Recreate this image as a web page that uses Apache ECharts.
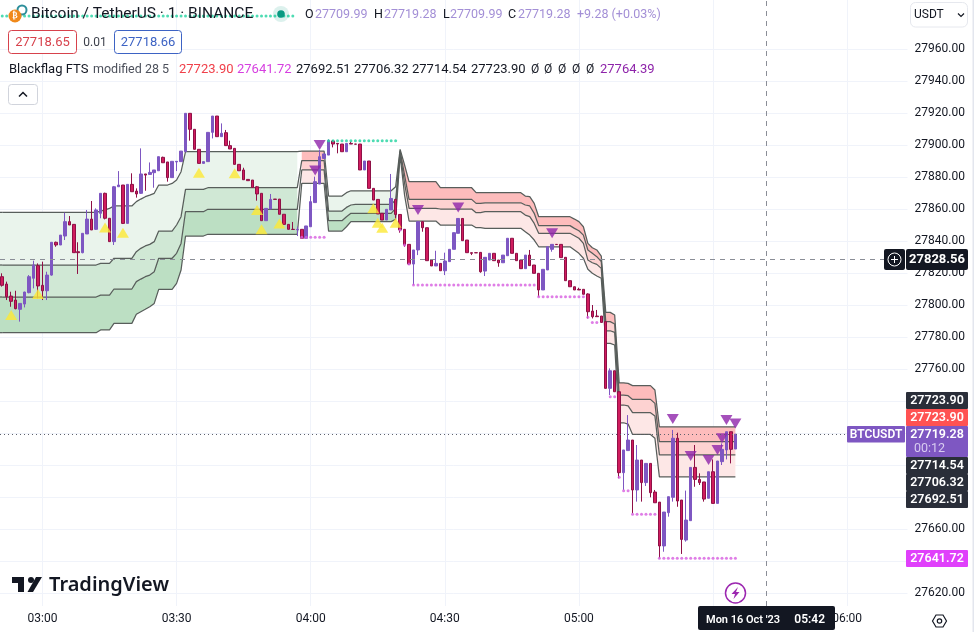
<!DOCTYPE html>
<html><head><meta charset="utf-8">
<style>html,body{margin:0;padding:0;background:#fff}#c{width:974px;height:632px}</style>
<script src="https://cdn.jsdelivr.net/npm/echarts@6/dist/echarts.min.js"></script>
</head><body><div id="c"></div>
<script>
const FONT = 'Roboto';
const firstBarMinute = 2*60+51;
const barCount = 203;
const timeLabels = ['03:00','03:30','04:00','04:30','05:00','06:00'];
const gridTimes = ['03:00','03:30','04:00','04:30','05:00','05:30','06:00'];
const priceTicks = [27620,27640,27660,27680,27700,27720,27740,27760,27780,27800,27820,27840,27860,27880,27900,27920,27940,27960];
const priceLabels = [27620,27660,27760,27780,27800,27820,27840,27860,27880,27900,27920,27940,27960];

const opens = [27817.7,27813.1,27805.6,27803.1,27797.3,27800.6,27807.7,27816.7,27824.6,27812.3,
27808.9,27818.7,27839.2,27837.5,27843.1,27852.1,27850.4,27833.3,27832.7,27844.4,
27853.7,27847.3,27857.3,27869.8,27854.2,27839.6,27873.9,27875.0,27851.0,27875.4,
27871.2,27869.8,27881.9,27881.6,27882.7,27883.9,27892.3,27889.4,27879.6,27889.4,
27889.6,27895.8,27919.8,27909.8,27897.3,27888.5,27889.6,27907.9,27918.1,27905.2,
27907.7,27899.6,27897.9,27887.9,27884.4,27878.5,27878.1,27873.9,27869.8,27852.7,
27860.0,27866.2,27866.2,27856.7,27850.4,27847.3,27846.9,27847.3,27841.7,27848.9,
27864.0,27875.6,27891.6,27893.7,27902.5,27901.0,27900.6,27895.8,27901.0,27900.6,
27900.6,27884.4,27890.0,27872.9,27866.0,27857.3,27853.1,27859.4,27866.0,27856.6,
27847.3,27837.9,27825.6,27834.4,27852.1,27848.3,27828.1,27824.4,27826.0,27821.4,
27827.1,27834.8,27844.8,27854.1,27840.6,27832.7,27832.7,27832.9,27821.2,27828.1,
27832.3,27828.1,27826.4,27830.8,27841.7,27832.3,27828.1,27822.7,27831.2,27825.0,
27819.8,27809.4,27821.9,27834.8,27837.9,27837.9,27829.8,27815.2,27811.4,27809.8,
27809.8,27806.9,27796.2,27793.1,27793.1,27789.6,27747.9,27758.9,27745.8,27695.2,
27709.0,27715.6,27684.4,27703.1,27689.0,27701.0,27683.1,27676.8,27649.4,27670.2,
27679.8,27716.7,27678.1,27653.1,27665.2,27698.5,27691.0,27689.4,27679.2,27695.8,
27676.0,27702.1,27709.4,27720.8,27709.99];
const closes = [27812.3,27805.2,27802.3,27797.7,27801.0,27808.1,27817.7,27825.0,27811.9,27808.9,
27818.7,27839.2,27837.5,27843.7,27852.1,27850.0,27832.7,27832.7,27844.8,27853.7,
27846.9,27859.4,27869.8,27854.2,27839.6,27873.9,27875.0,27851.0,27875.4,27870.8,
27869.4,27881.9,27881.2,27882.9,27884.4,27892.7,27888.9,27879.6,27889.8,27889.8,
27896.2,27919.8,27909.8,27897.3,27888.5,27889.6,27907.9,27918.1,27905.2,27907.3,
27899.6,27897.5,27887.9,27883.9,27878.3,27877.7,27873.5,27869.4,27852.7,27860.4,
27866.0,27866.0,27856.7,27850.4,27847.3,27847.2,27847.3,27841.7,27849.4,27864.6,
27877.1,27892.7,27894.4,27902.7,27900.6,27900.6,27895.8,27901.0,27900.6,27900.5,
27884.4,27890.0,27872.9,27865.6,27856.9,27853.1,27859.8,27866.6,27856.6,27846.9,
27837.5,27825.6,27834.4,27852.1,27848.3,27827.7,27824.4,27826.0,27821.4,27827.5,
27834.8,27845.2,27854.1,27840.2,27832.7,27832.3,27832.6,27820.8,27829.8,27832.3,
27827.7,27826.4,27831.2,27841.7,27832.3,27827.7,27822.7,27831.2,27824.6,27819.8,
27809.4,27822.3,27836.4,27837.9,27837.8,27829.6,27815.2,27811.4,27809.4,27809.4,
27806.7,27795.8,27792.7,27792.7,27789.1,27747.9,27758.9,27745.8,27695.2,27709.4,
27715.6,27684.4,27703.1,27689.0,27701.0,27682.7,27676.4,27649.4,27670.6,27680.2,
27716.7,27677.5,27653.5,27665.6,27698.5,27691.0,27689.0,27678.7,27695.8,27676.0,
27702.5,27709.8,27720.8,27709.8,27719.28];
const highs = [27819.8,27814.6,27808.3,27808.9,27801.0,27808.3,27818.7,27827.7,27826.0,27827.1,
27820.8,27839.2,27839.6,27843.7,27857.7,27855.6,27850.6,27839.2,27844.8,27859.4,
27865.0,27860.4,27869.8,27870.2,27854.2,27874.4,27883.7,27875.0,27875.4,27882.3,
27872.9,27897.9,27881.9,27889.1,27884.4,27892.7,27892.7,27889.4,27889.8,27889.8,
27896.2,27919.8,27919.8,27909.8,27897.3,27889.6,27907.9,27918.1,27918.1,27913.5,
27909.4,27902.7,27897.9,27887.9,27885.8,27878.5,27878.1,27874.4,27869.8,27860.4,
27869.4,27866.2,27866.2,27856.7,27850.4,27851.9,27849.0,27847.3,27849.4,27868.1,
27880.2,27896.9,27894.4,27903.5,27903.1,27901.0,27900.6,27901.0,27902.1,27900.6,
27900.6,27890.0,27890.0,27872.9,27866.0,27857.3,27859.8,27881.9,27866.0,27856.6,
27847.3,27837.9,27834.4,27852.1,27852.1,27848.3,27828.1,27833.9,27826.0,27832.7,
27834.8,27845.2,27854.1,27854.1,27840.6,27832.7,27832.7,27832.9,27829.8,27832.3,
27832.3,27828.1,27831.2,27841.7,27841.7,27832.3,27828.1,27831.2,27834.4,27825.0,
27819.8,27822.3,27836.4,27837.9,27837.9,27837.9,27829.8,27815.2,27811.4,27810.8,
27809.8,27807.3,27800.0,27796.9,27793.1,27789.6,27760.4,27758.9,27745.8,27709.4,
27731.2,27715.6,27712.5,27703.1,27701.0,27701.0,27684.4,27676.8,27670.6,27680.2,
27721.9,27720.2,27678.1,27684.0,27698.5,27712.5,27694.8,27689.4,27695.8,27703.5,
27702.5,27713.5,27720.8,27720.8,27719.28];
const lows = [27811.5,27803.1,27798.9,27797.3,27789.6,27798.5,27807.3,27810.4,27804.2,27803.1,
27803.1,27818.3,27836.4,27837.5,27840.6,27850.0,27832.7,27819.4,27832.3,27844.4,
27846.9,27846.9,27854.2,27853.5,27839.6,27837.5,27873.9,27850.6,27851.0,27870.8,
27867.1,27869.4,27871.4,27881.6,27873.3,27883.9,27888.9,27877.1,27879.6,27883.7,
27889.6,27895.8,27902.7,27897.3,27888.5,27888.5,27889.6,27904.1,27905.2,27905.2,
27899.6,27897.5,27887.9,27883.9,27878.3,27877.7,27873.5,27865.2,27852.7,27852.7,
27860.0,27866.0,27856.7,27850.4,27847.3,27847.2,27843.1,27841.7,27841.7,27848.9,
27864.0,27875.6,27891.6,27893.7,27898.5,27894.8,27895.8,27895.8,27900.6,27900.5,
27884.4,27884.4,27872.9,27865.6,27856.9,27853.1,27853.1,27859.4,27854.1,27845.2,
27836.4,27825.0,27812.5,27831.2,27845.8,27827.7,27824.4,27824.4,27821.4,27818.7,
27827.1,27834.8,27844.8,27840.2,27832.7,27831.2,27832.6,27820.2,27818.1,27828.1,
27827.7,27823.9,27826.4,27830.8,27832.3,27827.7,27822.7,27822.7,27824.6,27819.8,
27805.2,27809.4,27821.9,27833.3,27837.8,27829.6,27815.2,27811.4,27809.4,27809.4,
27806.7,27791.6,27791.6,27792.7,27789.1,27747.9,27743.7,27745.8,27691.7,27684.4,
27709.0,27669.8,27677.1,27677.1,27686.9,27679.8,27676.4,27641.7,27645.8,27667.7,
27677.1,27673.9,27644.4,27652.1,27665.2,27686.4,27687.5,27677.1,27679.2,27676.0,
27676.0,27700.0,27703.5,27701.0,27709.99];

// indicator levels, as [price, number of one-minute bars it holds]
const level1Runs = [[27857.9,22],[27858.7,1],[27859.4,1],[27860.4,1],[27861.9,5],[27864.6,1],[27866.2,1],[27867.7,1],[27868.7,1],[27869.8,1],[27875.0,3],[27876.0,1],[27878.1,1],[27883.3,1],[27895.8,26],[27896.2,6],[27868.1,4],[27870.2,1],[27871.4,10],[27873.9,1],[27897.3,1],[27887.5,1],[27877.1,7],[27873.3,8],[27870.2,2],[27870.2,9],[27868.1,1],[27867.7,1],[27863.5,1],[27855.2,8],[27853.7,1],[27852.1,1],[27848.9,1],[27838.5,1],[27835.8,1],[27834.4,1],[27830.6,1],[27795.4,2],[27793.7,1],[27751.4,2],[27751.0,1],[27749.6,5],[27746.9,1],[27723.9,18]];
const level2Runs = [[27825.0,22],[27826.0,3],[27829.2,5],[27833.3,1],[27835.4,1],[27836.9,1],[27837.9,1],[27839.6,1],[27846.2,4],[27850.0,1],[27855.2,1],[27872.3,5],[27873.3,21],[27890.2,6],[27858.7,4],[27861.0,1],[27862.5,1],[27862.9,9],[27865.6,1],[27896.4,1],[27881.2,1],[27866.0,7],[27866.0,8],[27863.5,2],[27863.9,9],[27862.5,1],[27861.9,1],[27857.3,1],[27849.6,8],[27847.9,1],[27846.4,1],[27843.7,1],[27834.4,1],[27832.3,1],[27830.2,1],[27827.1,1],[27789.6,2],[27788.1,1],[27743.7,2],[27743.3,1],[27741.0,5],[27738.5,1],[27714.54,18]];
const level3Runs = [[27805.0,22],[27806.2,3],[27810.0,5],[27814.6,1],[27816.2,1],[27817.7,1],[27818.7,1],[27820.8,1],[27829.2,4],[27832.3,1],[27838.5,1],[27858.3,5],[27859.8,21],[27884.4,6],[27852.7,4],[27855.2,1],[27857.3,10],[27860.4,1],[27895.4,1],[27876.0,1],[27860.4,7],[27860.0,8],[27857.7,2],[27858.3,9],[27856.2,1],[27855.2,1],[27851.0,1],[27844.8,8],[27843.3,1],[27841.7,1],[27838.5,1],[27828.1,1],[27826.4,1],[27825.4,1],[27822.9,1],[27783.9,2],[27782.9,1],[27737.5,2],[27736.9,1],[27732.7,5],[27730.6,1],[27706.32,18]];
const level4Runs = [[27782.7,22],[27784.4,3],[27788.5,5],[27794.2,1],[27795.8,1],[27797.3,1],[27798.9,1],[27801.0,1],[27809.8,4],[27813.5,1],[27821.9,1],[27843.1,5],[27844.2,21],[27876.0,6],[27846.2,4],[27848.9,1],[27852.1,10],[27853.5,1],[27893.7,1],[27868.7,1],[27852.5,7],[27850.0,8],[27848.3,2],[27847.9,9],[27845.8,1],[27843.7,1],[27840.6,1],[27836.4,8],[27834.4,1],[27832.3,1],[27829.2,1],[27822.3,1],[27819.8,1],[27818.1,1],[27816.7,1],[27776.0,2],[27775.0,1],[27726.4,2],[27725.6,1],[27719.1,5],[27716.7,1],[27692.51,18]];
// [first bar, last bar, trend]; bar 0 is 02:51
const trendSegments = [[0,66,'up'],[67,72,'down'],[73,88,'up'],[89,164,'down']];

// [first bar, last bar, price]
const lowDotRuns = [[67,72,27842.3],[89,89,27846.9],[90,90,27837.5],[91,91,27825.6],[92,119,27812.5],[120,130,27805.2],[131,131,27792.3],[132,133,27789.1],[136,137,27742.7],[138,138,27692.3],[139,140,27683.9],[141,146,27669.2],[147,164,27641.72]];
const highDotRuns = [[0,65,27980.6],[73,88,27902.7]];
// [bar, price]
const buySignals = [[2,27793.7],[8,27806.9],[23,27848.5],[27,27845.2],[44,27882.7],[52,27882.3],[57,27859.4],[58,27847.3],[62,27851.0],[83,27860.4],[84,27851.4],[85,27848.3],[88,27851.4]];
const sellSignals = [[71,27900.0],[70,27884.0],[93,27859.4],[102,27861.0],[123,27844.8],[150,27728.7],[154,27705.6],[158,27703.1],[160,27709.4],[161,27716.7],[162,27728.1],[164,27726.0]];

const lastPrice = 27719.28, crossPrice = 27828.56, crossTime = '05:42';

const expand = runs => runs.flatMap(([v,n]) => Array(n).fill(v));
const dots = runs => runs.flatMap(([a,b,v]) => Array.from({length:b-a+1},(_,k)=>[a+k,v]));
const level1 = expand(level1Runs), level2 = expand(level2Runs), level3 = expand(level3Runs), level4 = expand(level4Runs);
const levels = [level1,level2,level3,level4];
const categories = Array.from({length:barCount},(_,k)=>{const m=firstBarMinute+k;return String(Math.floor(m/60)).padStart(2,'0')+':'+String(m%60).padStart(2,'0');});
const candles = opens.map((o,k)=>[o,closes[k],lows[k],highs[k]]);

const fills = {up:['#eaf4ec','#d0e8d5','#bcdfc3'],down:['#fdbcbc','#fdd2d1','#fde7e6']};
const bandLine = {stroke:'#585e5b',lineWidth:1.25,fill:'none'};
function bandItem(params, api){
  const a = api.value(0), b = api.value(1), trend = trendSegments[params.dataIndex][2];
  const children = [];
  for(let n=0;n<3;n++){
    const top=[], bot=[];
    for(let k=a;k<=b;k++){ top.push(api.coord([k,levels[n][k]])); bot.push(api.coord([k,levels[n+1][k]])); }
    if(a===0){ top.unshift([0,top[0][1]]); bot.unshift([0,bot[0][1]]); }
    children.push({type:'polygon',shape:{points:top.concat(bot.reverse())},style:{fill:fills[trend][n]}});
  }
  if(a===0){
    levels.forEach(l=>{ const p=api.coord([0,l[0]]); children.push({type:'polyline',shape:{points:[[0,p[1]],p]},style:bandLine}); });
  }
  return {type:'group',children};
}
const lineSeries = levels.map((d,n)=>({type:'line',data:d,symbol:'none',silent:true,z:3,animation:false,
  lineStyle:{color:bandLine.stroke,width:bandLine.lineWidth}}));

const chart = echarts.init(document.getElementById('c'),null,{renderer:'canvas'});
const ink='#131722';
const T=(x,y,text,fill=ink,size=13,weight='normal',align='left')=>({type:'text',x,y,z:50,style:{text,fill,fontSize:size,fontWeight:weight,fontFamily:FONT,textAlign:align,textVerticalAlign:'middle'}});
const R=(x,y,w,h,fill,stroke,r=0)=>({type:'rect',z:49,shape:{x,y,width:w,height:h,r},style:{fill:fill,stroke:stroke||null,lineWidth:1}});
const tag=(y,h,fill,label)=>[R(906,y,62,h,fill,null,1),T(937,y+h/2,label,'#fff',12.5,'600','center')];
const light='#a38fd6';
const graphic=[
  {type:'rect',z:1,shape:{x:972.5,y:0,width:1.5,height:632},style:{fill:'#e3e6ee'}},
  {type:'circle',z:49,shape:{cx:22,cy:10,r:4.5},style:{fill:'none',stroke:'#2d8f9b',lineWidth:2}},
  {type:'circle',z:49,shape:{cx:15,cy:16,r:6.5},style:{fill:'#f0891a'}},
  T(15,16,'₿','#fff',8,'bold','center'),
  T(31,14.5,'Bitcoin / TetherUS · 1 · BINANCE',ink,15.5),
  {type:'circle',z:49,shape:{cx:281,cy:14,r:8},style:{fill:'rgba(8,153,129,.14)'}},
  {type:'circle',z:49,shape:{cx:281,cy:14,r:3.8},style:{fill:'#089981'}},
  T(305,14.5,'O',ink,12.5),T(315,14.5,'27709.99',light,12.5),
  T(374,14.5,'H',ink,12.5),T(384,14.5,'27719.28',light,12.5),
  T(443,14.5,'L',ink,12.5),T(450,14.5,'27709.99',light,12.5),
  T(508,14.5,'C',ink,12.5),T(518,14.5,'27719.28',light,12.5),
  T(577,14.5,'+9.28 (+0.03%)',light,12.5),
  R(8.5,30.5,68,23,'#fff','#d7424c',3),T(42.5,42.5,'27718.65','#d7424c',13,'normal','center'),
  T(95,42.5,'0.01','#3b3f4a',12,'normal','center'),
  R(114.5,30.5,67,23,'#fff','#3d63c4',3),T(148,42.5,'27718.66','#3d63c4',13,'normal','center'),
  T(9,70,'Blackflag FTS',ink,13),T(93,70,'modified 28 5','#4c505b',12.5),
  T(179,70,'27723.90','#f0404a',13),T(237,70,'27641.72','#d63fe0',13),
  T(296,70,'27692.51',ink,13),T(354,70,'27706.32',ink,13),T(412,70,'27714.54',ink,13),T(471,70,'27723.90',ink,13),
  T(531,70,'Ø',ink,12),T(544,70,'Ø',ink,12),T(558,70,'Ø',ink,12),T(572,70,'Ø',ink,12),T(586,70,'Ø',ink,12),
  T(600,70,'27764.39','#8e24aa',13),
  R(8.5,84.5,29,20,'#fff','#d1d4dc',3),
  {type:'polyline',z:50,shape:{points:[[19,96.5],[23,92.5],[27,96.5]]},style:{fill:'none',stroke:ink,lineWidth:1.5}},
  R(910.5,2.5,57,24.5,'#fff','#e6e8ee',5),T(914,15,'USDT',ink,12),
  {type:'polyline',z:50,shape:{points:[[958,13.5],[961,16.5],[964,13.5]]},style:{fill:'none',stroke:ink,lineWidth:1.2}},
  R(884,249,21,21,'#131722',null,2),
  {type:'circle',z:50,shape:{cx:894.5,cy:259.5,r:6.5},style:{fill:'none',stroke:'#fff',lineWidth:1}},
  {type:'polyline',z:50,shape:{points:[[894.5,256],[894.5,263]]},style:{stroke:'#fff',lineWidth:1}},
  {type:'polyline',z:50,shape:{points:[[891,259.5],[898,259.5]]},style:{stroke:'#fff',lineWidth:1}},
  R(906,249,62,21,'#131722',null,2),T(937,259.5,'27828.56','#fff',13,'bold','center'),
  ...tag(392,17,'#2a2e39','27723.90'),
  ...tag(409,17,'#ff5252','27723.90'),
  R(906,426,62,31,'#7e57c2',null,1),T(937,434.5,'27719.28','#fff',12.5,'600','center'),T(914,449,'00:12','#d8ccf0',12.5),
  ...tag(457,17,'#2a2e39','27714.54'),
  ...tag(474,17,'#2a2e39','27706.32'),
  ...tag(491,17,'#2a2e39','27692.51'),
  ...tag(550,17,'#e040fb','27641.72'),
  R(847,426,58,16.5,'#7e57c2',null,1),T(876,434.5,'BTCUSDT','#fff',12,'600','center'),
  {type:'polygon',z:49,shape:{points:[[12,577],[24,577],[24,592],[18,592],[18,583],[12,583]]},style:{fill:ink}},
  {type:'circle',z:49,shape:{cx:31,cy:580,r:3},style:{fill:ink}},
  {type:'polygon',z:49,shape:{points:[[36,577],[42,577],[33,592],[27.5,592]]},style:{fill:ink}},
  {type:'text',x:49,y:585,z:50,style:{text:'TradingView',fill:ink,fontSize:20,fontWeight:'600',fontFamily:'Noto Sans',textVerticalAlign:'middle'}},
  {type:'circle',z:49,shape:{cx:735.5,cy:593,r:10},style:{fill:'#fff',stroke:'#9c27b0',lineWidth:1.5}},
  {type:'polygon',z:50,shape:{points:[[738,587],[731.5,594],[735,594],[733.5,599],[739.5,592],[736,592]]},style:{fill:'#9c27b0'}},
  {type:'polygon',z:49,shape:{points:[[932.5,621],[936,615],[943,615],[946.5,621],[943,627],[936,627]]},style:{fill:'none',stroke:ink,lineWidth:1.2}},
  {type:'circle',z:49,shape:{cx:939.5,cy:621,r:2.2},style:{fill:'none',stroke:ink,lineWidth:1.2}},
  R(698,606,137,24,'#131722',null,2),T(706,620,"Mon 16 Oct '23",'#fff',11,'600'),T(825,620,'05:42','#fff',12,'600','right')
];

chart.setOption({
  animation:false,backgroundColor:'#fff',textStyle:{fontFamily:FONT},
  grid:{left:0,right:66.5,top:0,bottom:26,containLabel:false},
  xAxis:{type:'category',data:categories,boundaryGap:true,
    axisLine:{show:false},axisTick:{show:false},
    axisLabel:{color:ink,fontSize:12,margin:7,fontFamily:FONT,interval:(i,v)=>timeLabels.includes(v)},
    splitLine:{show:true,alignWithLabel:true,interval:(i,v)=>gridTimes.includes(v),lineStyle:{color:'#f0f3fa',width:1}}},
  yAxis:{type:'value',position:'right',min:27611.875,max:27990.625,
    axisLine:{show:false},
    axisTick:{show:false,customValues:priceTicks},
    axisLabel:{color:ink,fontSize:12,margin:7,fontFamily:FONT,formatter:v=>v.toFixed(2),customValues:priceLabels},
    splitLine:{show:true,lineStyle:{color:'#f0f3fa',width:1}}},
  graphic,
  series:[
    {type:'custom',z:2,silent:true,data:trendSegments.map(s=>[s[0],s[1]]),encode:{x:[0,1]},renderItem:bandItem},
    ...lineSeries,
    {type:'candlestick',z:4,data:candles,barWidth:3,silent:true,
      itemStyle:{color:'#7e57c2',color0:'#d01c5e',borderColor:'#7e57c2',borderColor0:'#8f1046',borderWidth:1},
      markLine:{silent:true,symbol:'none',label:{show:false},animation:false,z:7,data:[
        {yAxis:lastPrice,lineStyle:{color:'#5d606b',type:[1,3],width:1}},
        {yAxis:crossPrice,lineStyle:{color:'#8a8d96',type:[5,5],width:1}},
        {xAxis:crossTime,lineStyle:{color:'#8a8d96',type:[5,5],width:1}}
      ]}},
    {type:'scatter',z:5,silent:true,data:dots(lowDotRuns),symbol:'circle',symbolSize:3,itemStyle:{color:'#d75ee0'}},
    {type:'scatter',z:5,silent:true,data:dots(highDotRuns),symbol:'circle',symbolSize:3,itemStyle:{color:'#22d3a0'}},
    {type:'scatter',z:6,silent:true,data:buySignals,symbol:'triangle',symbolSize:[12,10],itemStyle:{color:'#fde935'}},
    {type:'scatter',z:6,silent:true,data:sellSignals,symbol:'triangle',symbolRotate:180,symbolSize:[12,10],itemStyle:{color:'#8e24aa'}}
  ]
});
</script></body></html>
